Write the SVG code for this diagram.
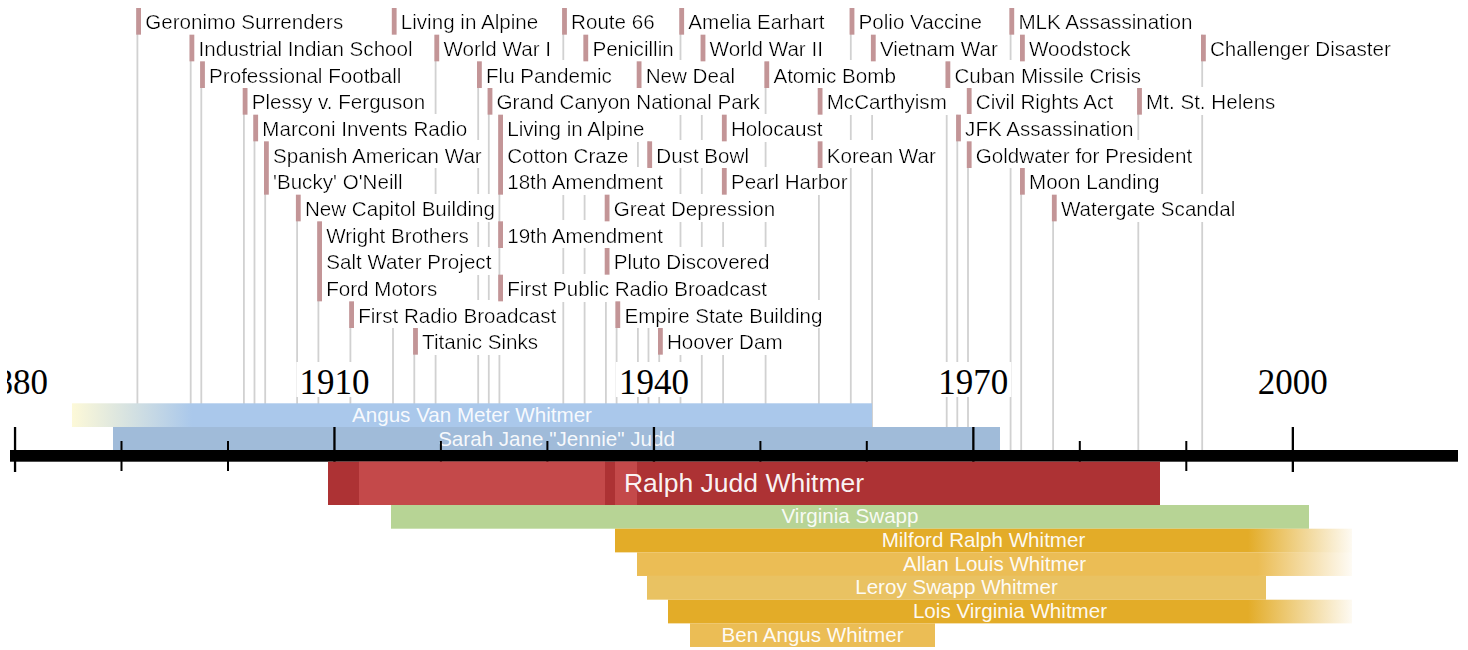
<svg xmlns="http://www.w3.org/2000/svg" width="1468" height="650" viewBox="0 0 1468 650">
<style>
.ln{stroke:#d1d1d1;stroke-width:1.8}
.mk{fill:#c39597}
.ev text{font-family:"Liberation Sans",Arial,sans-serif;font-size:20.6px;fill:#000}
.yr{font-family:"Liberation Serif","Times New Roman",serif;font-size:35px;text-anchor:middle;fill:#000}
.yb{fill:#fff}
.bt{font-family:"Liberation Sans",Arial,sans-serif;font-size:20.6px;text-anchor:middle;fill:#fff}
.tk{fill:#000}
</style>
<defs>
<filter id="bg" x="-0.01" y="-0.12" width="1.02" height="1.165"><feFlood flood-color="#fff"/><feComposite in="SourceGraphic" operator="over"/></filter>
<clipPath id="plot"><rect x="7" y="0" width="1461" height="650"/></clipPath>
<linearGradient id="gAngus" gradientUnits="userSpaceOnUse" x1="72" y1="0" x2="192" y2="0"><stop offset="0" stop-color="#fdf9d8"/><stop offset="1" stop-color="#aac8eb"/></linearGradient>
<linearGradient id="gGold" gradientUnits="userSpaceOnUse" x1="1248" y1="0" x2="1352" y2="0"><stop offset="0" stop-color="#e3ac28"/><stop offset="1" stop-color="#e3ac28" stop-opacity="0.06"/></linearGradient>
<linearGradient id="gLight" gradientUnits="userSpaceOnUse" x1="1258" y1="0" x2="1352" y2="0"><stop offset="0" stop-color="#ebbd55"/><stop offset="1" stop-color="#ebbd55" stop-opacity="0.06"/></linearGradient>
</defs>
<rect width="1468" height="650" fill="#fff"/>
<g id="connectors">
<line class="ln" x1="137.4" y1="8" x2="137.4" y2="450"/>
<line class="ln" x1="190.7" y1="34.67" x2="190.7" y2="450"/>
<line class="ln" x1="201.3" y1="61.33" x2="201.3" y2="450"/>
<line class="ln" x1="243.9" y1="88" x2="243.9" y2="450"/>
<line class="ln" x1="254.5" y1="114.67" x2="254.5" y2="450"/>
<line class="ln" x1="265.2" y1="141.33" x2="265.2" y2="450"/>
<line class="ln" x1="297.1" y1="194.67" x2="297.1" y2="450"/>
<line class="ln" x1="318.4" y1="221.33" x2="318.4" y2="450"/>
<line class="ln" x1="350.4" y1="301.33" x2="350.4" y2="450"/>
<line class="ln" x1="414.3" y1="328" x2="414.3" y2="450"/>
<line class="ln" x1="393.0" y1="8" x2="393.0" y2="450"/>
<line class="ln" x1="435.6" y1="34.67" x2="435.6" y2="450"/>
<line class="ln" x1="478.2" y1="61.33" x2="478.2" y2="450"/>
<line class="ln" x1="488.8" y1="88" x2="488.8" y2="450"/>
<line class="ln" x1="499.4" y1="114.67" x2="499.4" y2="450"/>
<line class="ln" x1="563.3" y1="8" x2="563.3" y2="450"/>
<line class="ln" x1="584.6" y1="34.67" x2="584.6" y2="450"/>
<line class="ln" x1="637.9" y1="61.33" x2="637.9" y2="450"/>
<line class="ln" x1="605.9" y1="194.67" x2="605.9" y2="450"/>
<line class="ln" x1="616.6" y1="301.33" x2="616.6" y2="450"/>
<line class="ln" x1="648.5" y1="141.33" x2="648.5" y2="450"/>
<line class="ln" x1="659.2" y1="328" x2="659.2" y2="450"/>
<line class="ln" x1="680.5" y1="8" x2="680.5" y2="450"/>
<line class="ln" x1="701.8" y1="34.67" x2="701.8" y2="450"/>
<line class="ln" x1="723.1" y1="114.67" x2="723.1" y2="450"/>
<line class="ln" x1="765.6" y1="61.33" x2="765.6" y2="450"/>
<line class="ln" x1="818.9" y1="88" x2="818.9" y2="450"/>
<line class="ln" x1="850.8" y1="8" x2="850.8" y2="450"/>
<line class="ln" x1="872.1" y1="34.67" x2="872.1" y2="450"/>
<line class="ln" x1="946.7" y1="61.33" x2="946.7" y2="450"/>
<line class="ln" x1="968.0" y1="88" x2="968.0" y2="450"/>
<line class="ln" x1="957.3" y1="114.67" x2="957.3" y2="450"/>
<line class="ln" x1="1010.6" y1="8" x2="1010.6" y2="450"/>
<line class="ln" x1="1021.2" y1="34.67" x2="1021.2" y2="450"/>
<line class="ln" x1="1053.1" y1="194.67" x2="1053.1" y2="450"/>
<line class="ln" x1="1138.3" y1="88" x2="1138.3" y2="450"/>
<line class="ln" x1="1202.2" y1="34.67" x2="1202.2" y2="450"/>
</g>
<g id="events">
<g id="ev-geronimo" class="ev"><rect class="mk" x="136.2" y="8" width="4.8" height="26.67"/><text x="145.2" y="29.3" filter="url(#bg)">Geronimo Surrenders</text></g>
<g id="ev-indian-school" class="ev"><rect class="mk" x="189.5" y="34.67" width="4.8" height="26.67"/><text x="198.5" y="55.97" filter="url(#bg)">Industrial Indian School</text></g>
<g id="ev-football" class="ev"><rect class="mk" x="200.1" y="61.33" width="4.8" height="26.67"/><text x="209.1" y="82.63" filter="url(#bg)">Professional Football</text></g>
<g id="ev-plessy" class="ev"><rect class="mk" x="242.7" y="88" width="4.8" height="26.67"/><text x="251.7" y="109.3" filter="url(#bg)">Plessy v. Ferguson</text></g>
<g id="ev-marconi" class="ev"><rect class="mk" x="253.3" y="114.67" width="4.8" height="26.67"/><text x="262.3" y="135.97" filter="url(#bg)">Marconi Invents Radio</text></g>
<g id="ev-1898" class="ev"><rect class="mk" x="264.0" y="141.33" width="4.8" height="53.33"/><text x="273.0" y="162.63" filter="url(#bg)">Spanish American War</text><text x="273.0" y="189.3" filter="url(#bg)">'Bucky' O'Neill</text></g>
<g id="ev-capitol" class="ev"><rect class="mk" x="295.9" y="194.67" width="4.8" height="26.67"/><text x="304.9" y="215.97" filter="url(#bg)">New Capitol Building</text></g>
<g id="ev-1903" class="ev"><rect class="mk" x="317.2" y="221.33" width="4.8" height="80"/><text x="326.2" y="242.63" filter="url(#bg)">Wright Brothers</text><text x="326.2" y="269.3" filter="url(#bg)">Salt Water Project</text><text x="326.2" y="295.97" filter="url(#bg)">Ford Motors</text></g>
<g id="ev-first-radio" class="ev"><rect class="mk" x="349.2" y="301.33" width="4.8" height="26.67"/><text x="358.2" y="322.63" filter="url(#bg)">First Radio Broadcast</text></g>
<g id="ev-titanic" class="ev"><rect class="mk" x="413.1" y="328" width="4.8" height="26.67"/><text x="422.1" y="349.3" filter="url(#bg)">Titanic Sinks</text></g>
<g id="ev-alpine1" class="ev"><rect class="mk" x="391.8" y="8" width="4.8" height="26.67"/><text x="400.8" y="29.3" filter="url(#bg)">Living in Alpine</text></g>
<g id="ev-ww1" class="ev"><rect class="mk" x="434.4" y="34.67" width="4.8" height="26.67"/><text x="443.4" y="55.97" filter="url(#bg)">World War I</text></g>
<g id="ev-flu" class="ev"><rect class="mk" x="477.0" y="61.33" width="4.8" height="26.67"/><text x="486.0" y="82.63" filter="url(#bg)">Flu Pandemic</text></g>
<g id="ev-grand-canyon" class="ev"><rect class="mk" x="487.6" y="88" width="4.8" height="26.67"/><text x="496.6" y="109.3" filter="url(#bg)">Grand Canyon National Park</text></g>
<g id="ev-1920" class="ev"><rect class="mk" x="498.2" y="114.67" width="4.8" height="80"/><text x="507.2" y="135.97" filter="url(#bg)">Living in Alpine</text><text x="507.2" y="162.63" filter="url(#bg)">Cotton Craze</text><text x="507.2" y="189.3" filter="url(#bg)">18th Amendment</text></g>
<g id="ev-19th" class="ev"><rect class="mk" x="498.2" y="221.33" width="4.8" height="26.67"/><text x="507.2" y="242.63" filter="url(#bg)">19th Amendment</text></g>
<g id="ev-public-radio" class="ev"><rect class="mk" x="498.2" y="274.67" width="4.8" height="26.67"/><text x="507.2" y="295.97" filter="url(#bg)">First Public Radio Broadcast</text></g>
<g id="ev-route66" class="ev"><rect class="mk" x="562.1" y="8" width="4.8" height="26.67"/><text x="571.1" y="29.3" filter="url(#bg)">Route 66</text></g>
<g id="ev-penicillin" class="ev"><rect class="mk" x="583.4" y="34.67" width="4.8" height="26.67"/><text x="592.4" y="55.97" filter="url(#bg)">Penicillin</text></g>
<g id="ev-new-deal" class="ev"><rect class="mk" x="636.7" y="61.33" width="4.8" height="26.67"/><text x="645.7" y="82.63" filter="url(#bg)">New Deal</text></g>
<g id="ev-depression" class="ev"><rect class="mk" x="604.7" y="194.67" width="4.8" height="26.67"/><text x="613.7" y="215.97" filter="url(#bg)">Great Depression</text></g>
<g id="ev-pluto" class="ev"><rect class="mk" x="604.7" y="248" width="4.8" height="26.67"/><text x="613.7" y="269.3" filter="url(#bg)">Pluto Discovered</text></g>
<g id="ev-empire" class="ev"><rect class="mk" x="615.4" y="301.33" width="4.8" height="26.67"/><text x="624.4" y="322.63" filter="url(#bg)">Empire State Building</text></g>
<g id="ev-dust-bowl" class="ev"><rect class="mk" x="647.3" y="141.33" width="4.8" height="26.67"/><text x="656.3" y="162.63" filter="url(#bg)">Dust Bowl</text></g>
<g id="ev-hoover" class="ev"><rect class="mk" x="658.0" y="328" width="4.8" height="26.67"/><text x="667.0" y="349.3" filter="url(#bg)">Hoover Dam</text></g>
<g id="ev-earhart" class="ev"><rect class="mk" x="679.3" y="8" width="4.8" height="26.67"/><text x="688.3" y="29.3" filter="url(#bg)">Amelia Earhart</text></g>
<g id="ev-ww2" class="ev"><rect class="mk" x="700.6" y="34.67" width="4.8" height="26.67"/><text x="709.6" y="55.97" filter="url(#bg)">World War II</text></g>
<g id="ev-holocaust" class="ev"><rect class="mk" x="721.9" y="114.67" width="4.8" height="26.67"/><text x="730.9" y="135.97" filter="url(#bg)">Holocaust</text></g>
<g id="ev-pearl" class="ev"><rect class="mk" x="721.9" y="168" width="4.8" height="26.67"/><text x="730.9" y="189.3" filter="url(#bg)">Pearl Harbor</text></g>
<g id="ev-atomic" class="ev"><rect class="mk" x="764.4" y="61.33" width="4.8" height="26.67"/><text x="773.4" y="82.63" filter="url(#bg)">Atomic Bomb</text></g>
<g id="ev-mccarthy" class="ev"><rect class="mk" x="817.7" y="88" width="4.8" height="26.67"/><text x="826.7" y="109.3" filter="url(#bg)">McCarthyism</text></g>
<g id="ev-korea" class="ev"><rect class="mk" x="817.7" y="141.33" width="4.8" height="26.67"/><text x="826.7" y="162.63" filter="url(#bg)">Korean War</text></g>
<g id="ev-polio" class="ev"><rect class="mk" x="849.6" y="8" width="4.8" height="26.67"/><text x="858.6" y="29.3" filter="url(#bg)">Polio Vaccine</text></g>
<g id="ev-vietnam" class="ev"><rect class="mk" x="870.9" y="34.67" width="4.8" height="26.67"/><text x="879.9" y="55.97" filter="url(#bg)">Vietnam War</text></g>
<g id="ev-cuba" class="ev"><rect class="mk" x="945.5" y="61.33" width="4.8" height="26.67"/><text x="954.5" y="82.63" filter="url(#bg)">Cuban Missile Crisis</text></g>
<g id="ev-civil-rights" class="ev"><rect class="mk" x="966.8" y="88" width="4.8" height="26.67"/><text x="975.8" y="109.3" filter="url(#bg)">Civil Rights Act</text></g>
<g id="ev-jfk" class="ev"><rect class="mk" x="956.1" y="114.67" width="4.8" height="26.67"/><text x="965.1" y="135.97" filter="url(#bg)">JFK Assassination</text></g>
<g id="ev-goldwater" class="ev"><rect class="mk" x="966.8" y="141.33" width="4.8" height="26.67"/><text x="975.8" y="162.63" filter="url(#bg)">Goldwater for President</text></g>
<g id="ev-mlk" class="ev"><rect class="mk" x="1009.4" y="8" width="4.8" height="26.67"/><text x="1018.4" y="29.3" filter="url(#bg)">MLK Assassination</text></g>
<g id="ev-woodstock" class="ev"><rect class="mk" x="1020" y="34.67" width="4.8" height="26.67"/><text x="1029" y="55.97" filter="url(#bg)">Woodstock</text></g>
<g id="ev-moon" class="ev"><rect class="mk" x="1020" y="168" width="4.8" height="26.67"/><text x="1029" y="189.3" filter="url(#bg)">Moon Landing</text></g>
<g id="ev-watergate" class="ev"><rect class="mk" x="1051.9" y="194.67" width="4.8" height="26.67"/><text x="1060.9" y="215.97" filter="url(#bg)">Watergate Scandal</text></g>
<g id="ev-st-helens" class="ev"><rect class="mk" x="1137.1" y="88" width="4.8" height="26.67"/><text x="1146.1" y="109.3" filter="url(#bg)">Mt. St. Helens</text></g>
<g id="ev-challenger" class="ev"><rect class="mk" x="1201.0" y="34.67" width="4.8" height="26.67"/><text x="1210" y="55.97" filter="url(#bg)">Challenger Disaster</text></g>
</g>
<g id="year-labels" clip-path="url(#plot)">
<rect class="yb" x="-23" y="362" width="76" height="35"/><text class="yr" x="13" y="394.3">1880</text>
<rect class="yb" x="296.4" y="362" width="76" height="35"/><text class="yr" x="334.4" y="394.3">1910</text>
<rect class="yb" x="615.9" y="362" width="76" height="35"/><text class="yr" x="653.9" y="394.3">1940</text>
<rect class="yb" x="935.3" y="362" width="76" height="35"/><text class="yr" x="973.3" y="394.3">1970</text>
<rect class="yb" x="1254.8" y="362" width="76" height="35"/><text class="yr" x="1292.8" y="394.3">2000</text>
</g>
<g id="p-angus"><rect x="72" y="403.3" width="800" height="23.7" fill="url(#gAngus)"/><text class="bt" x="472" y="421.6" fill-opacity="0.92">Angus Van Meter Whitmer</text></g>
<g id="p-sarah"><rect x="113" y="427" width="887" height="23" fill="#a0bbd9"/><text class="bt" x="556.5" y="445.6" fill-opacity="0.92">Sarah Jane "Jennie" Judd</text></g>
<g id="axis">
<rect class="tk" x="10" y="450" width="1448" height="11.7"/>
<rect class="tk" x="13.9" y="427" width="2.3" height="45"/>
<rect class="tk" x="333.3" y="427" width="2.3" height="45"/>
<rect class="tk" x="652.8" y="427" width="2.3" height="45"/>
<rect class="tk" x="972.2" y="427" width="2.3" height="45"/>
<rect class="tk" x="1291.7" y="427" width="2.3" height="45"/>
<rect class="tk" x="120.5" y="441" width="2" height="30"/>
<rect class="tk" x="227" y="441" width="2" height="30"/>
<rect class="tk" x="439.9" y="441" width="2" height="30"/>
<rect class="tk" x="546.4" y="441" width="2" height="30"/>
<rect class="tk" x="759.4" y="441" width="2" height="30"/>
<rect class="tk" x="865.8" y="441" width="2" height="30"/>
<rect class="tk" x="1078.8" y="441" width="2" height="30"/>
<rect class="tk" x="1185.3" y="441" width="2" height="30"/>
</g>
<g id="p-ralph">
<rect x="328" y="461.7" width="832" height="43.3" fill="#ad3234"/>
<rect x="359" y="461.7" width="246" height="43.3" fill="#c4494a"/>
<rect x="615" y="461.7" width="22" height="43.3" fill="#c4494a"/>
<text x="744" y="492" font-family="'Liberation Sans',Arial,sans-serif" font-size="26.5" text-anchor="middle" fill="#fff" fill-opacity="0.95">Ralph Judd Whitmer</text>
</g>
<g id="p-virginia"><rect x="391" y="505" width="918" height="23.7" fill="#b7d495"/><text class="bt" x="850" y="523.3" fill-opacity="0.92">Virginia Swapp</text></g>
<g id="p-milford"><rect x="615" y="528.7" width="633" height="23.67" fill="#e3ac28"/><rect x="1248" y="528.7" width="104" height="23.67" fill="url(#gGold)"/><text class="bt" x="983.5" y="547" fill-opacity="0.95">Milford Ralph Whitmer</text></g>
<g id="p-allan"><rect x="637" y="552.3" width="621" height="23.67" fill="#ebbd55"/><rect x="1258" y="552.3" width="94" height="23.67" fill="url(#gLight)"/><text class="bt" x="994.5" y="570.6" fill-opacity="0.95">Allan Louis Whitmer</text></g>
<g id="p-leroy"><rect x="647" y="576" width="619" height="23.67" fill="#e9c262"/><text class="bt" x="956.5" y="594.3" fill-opacity="0.95">Leroy Swapp Whitmer</text></g>
<g id="p-lois"><rect x="668" y="599.7" width="580" height="23.67" fill="#e3ac28"/><rect x="1248" y="599.7" width="104" height="23.67" fill="url(#gGold)"/><text class="bt" x="1010" y="618" fill-opacity="0.95">Lois Virginia Whitmer</text></g>
<g id="p-ben"><rect x="690" y="623.3" width="245" height="23.67" fill="#ebbd55"/><text class="bt" x="812.5" y="641.7" fill-opacity="0.95">Ben Angus Whitmer</text></g>
</svg>
